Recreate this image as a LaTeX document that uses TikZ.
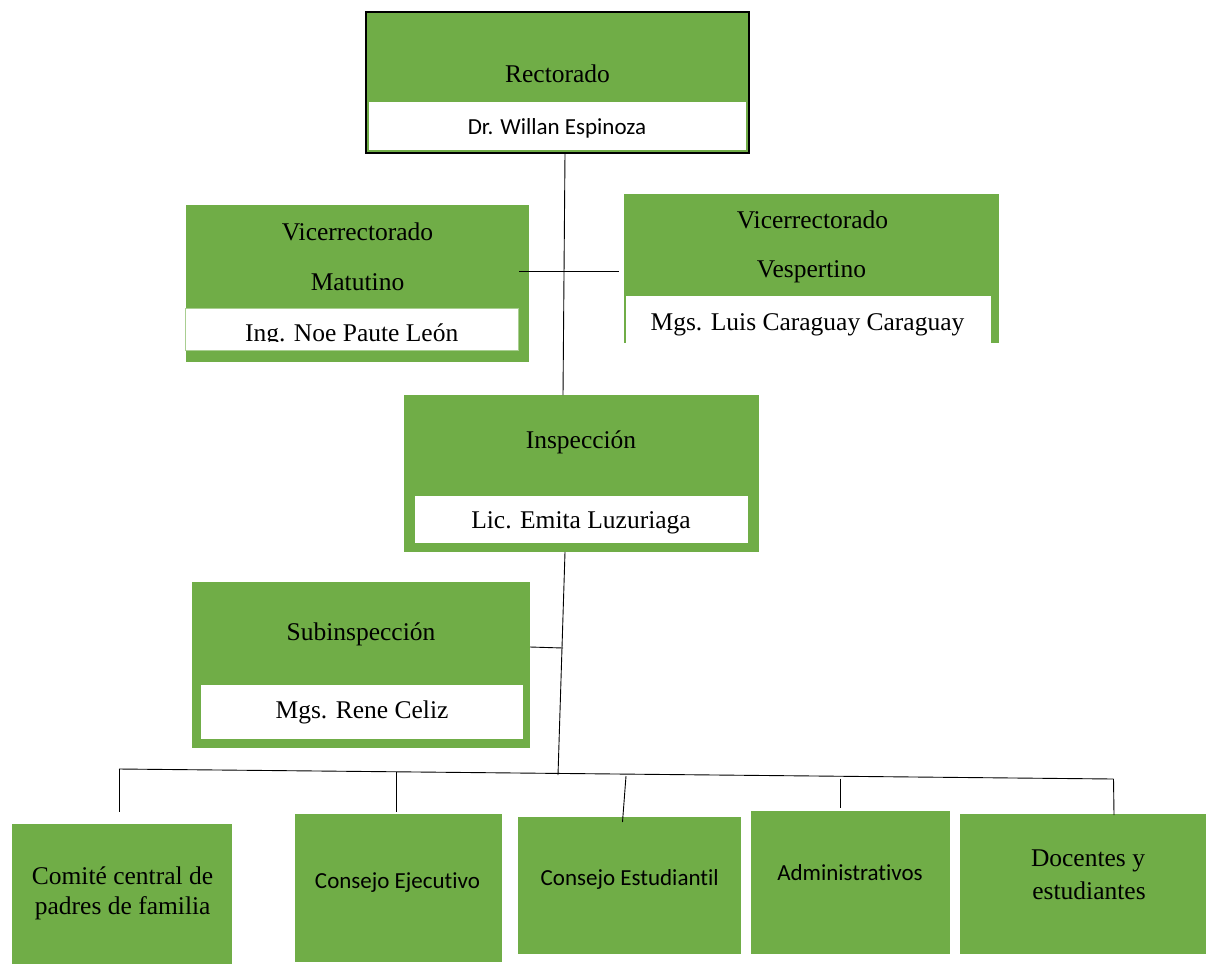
\documentclass[tikz,border=0pt]{standalone}
\usepackage{fontspec}
\setmainfont{Liberation Serif}
\newfontfamily\calibrifont[Ligatures={NoCommon}]{Carlito}
\definecolor{ogreen}{HTML}{70AD47}
\tikzset{
  gbox/.style={fill=ogreen, draw=none, anchor=north west, inner sep=0pt, outer sep=0pt},
  wbox/.style={fill=white, draw=none, anchor=north west, inner sep=0pt, outer sep=0pt},
  serif/.style={font=\fontsize{25.5}{34}\selectfont, text=black, inner sep=0pt, anchor=base},
  sans/.style={font=\calibrifont\fontsize{23}{30}\selectfont, text=black, inner sep=0pt, anchor=base},
  conn/.style={draw=black, line width=0.9pt}
}
\begin{document}
\begin{tikzpicture}[x=1pt, y=-1pt]
\useasboundingbox (0,0) rectangle (1206,964);

% Rectorado
\node[gbox, draw=black, line width=2.5pt, minimum width=383, minimum height=141] (rect) at (366,12) {};
\node[wbox, minimum width=377, minimum height=48] (rectw) at (369,102) {};
\node[serif] (rectt) at (557.5,82) {Rectorado};
\node[sans] (rectn) at (557,134) {Dr. Willan Espinoza};

% Vicerrectorado Matutino
\node[gbox, minimum width=343, minimum height=157] (mat) at (186,205) {};
\node[wbox, draw=ogreen!60, line width=0.6pt, minimum width=333, minimum height=42] (matw) at (185,308) {};
\node[serif] (matt1) at (357.5,240) {Vicerrectorado};
\node[serif] (matt2) at (357.5,290) {Matutino};
\begin{scope}
  \clip (185,308) rectangle (518,341.5);
  \node[serif] (matn) at (351.7,341.7) {Ing. Noe Paute León};
\end{scope}

% Vicerrectorado Vespertino
\node[gbox, minimum width=375, minimum height=149] (ves) at (624,194) {};
\node[wbox, minimum width=365, minimum height=47] (vesw) at (626,296) {};
\node[serif] (vest1) at (812.5,228) {Vicerrectorado};
\node[serif] (vest2) at (811.5,277) {Vespertino};
\node[serif] (vesn) at (807.5,330.7) {Mgs. Luis Caraguay Caraguay};

% Inspeccion
\node[gbox, minimum width=355, minimum height=157] (insp) at (404,395) {};
\node[wbox, minimum width=333, minimum height=47] (inspw) at (415,496) {};
\node[serif] (inspt) at (581,448) {Inspección};
\node[serif] (inspn) at (581,528) {Lic. Emita Luzuriaga};

% Subinspeccion
\node[gbox, minimum width=338, minimum height=166] (sub) at (192,582) {};
\node[wbox, minimum width=322, minimum height=54] (subw) at (201,685) {};
\node[serif] (subt) at (361,640) {Subinspección};
\node[serif] (subn) at (362,718) {Mgs. Rene Celiz};

% Bottom row
\node[gbox, minimum width=220, minimum height=140] (b1) at (11.7,824) {};
\node[serif] (b1t1) at (122.5,884) {Comité central de};
\node[serif] (b1t2) at (122.7,914) {padres de familia};

\node[gbox, minimum width=207, minimum height=148] (b2) at (294.7,814) {};
\node[sans] (b2t) at (397.5,888) {Consejo Ejecutivo};

\node[gbox, minimum width=223, minimum height=137] (b3) at (518,817) {};
\node[sans] (b3t) at (629.7,885) {Consejo Estudiantil};

\node[gbox, minimum width=198.5, minimum height=143] (b4) at (751,811) {};
\node[sans] (b4t) at (850,880.7) {Administrativos};

\node[gbox, minimum width=246, minimum height=140] (b5) at (960,814) {};
\node[serif] (b5t1) at (1088,866.7) {Docentes y};
\node[serif] (b5t2) at (1089,899) {estudiantes};

% Connectors
\coordinate (r1) at (565,153);
\coordinate (i1) at (563,395);
\draw[conn] (r1) -- (i1);
\coordinate (h1) at (519,271);
\coordinate (h2) at (619,271);
\draw[conn] (h1) -- (h2);

\coordinate (i2) at (565,552);
\coordinate (bj) at (558,775);
\draw[conn] (i2) -- (bj);
\coordinate (s1) at (530,647);
\coordinate (s2) at (563,648);
\draw[conn] (s1) -- (s2);

\coordinate (busL) at (119,769);
\coordinate (busR) at (1113.5,779);
\draw[conn] (busL) -- (busR);

\coordinate (d1b) at (119,812);
\draw[conn] (busL) -- (d1b);
\coordinate (d2t) at (396,772);
\coordinate (d2b) at (396,812);
\draw[conn] (d2t) -- (d2b);
\coordinate (d3t) at (626,776);
\coordinate (d3b) at (622.5,822);
\draw[conn] (d3t) -- (d3b);
\coordinate (d4t) at (840,778.5);
\coordinate (d4b) at (840,808);
\draw[conn] (d4t) -- (d4b);
\coordinate (d5b) at (1114,815);
\draw[conn] (busR) -- (d5b);
\end{tikzpicture}
\end{document}
